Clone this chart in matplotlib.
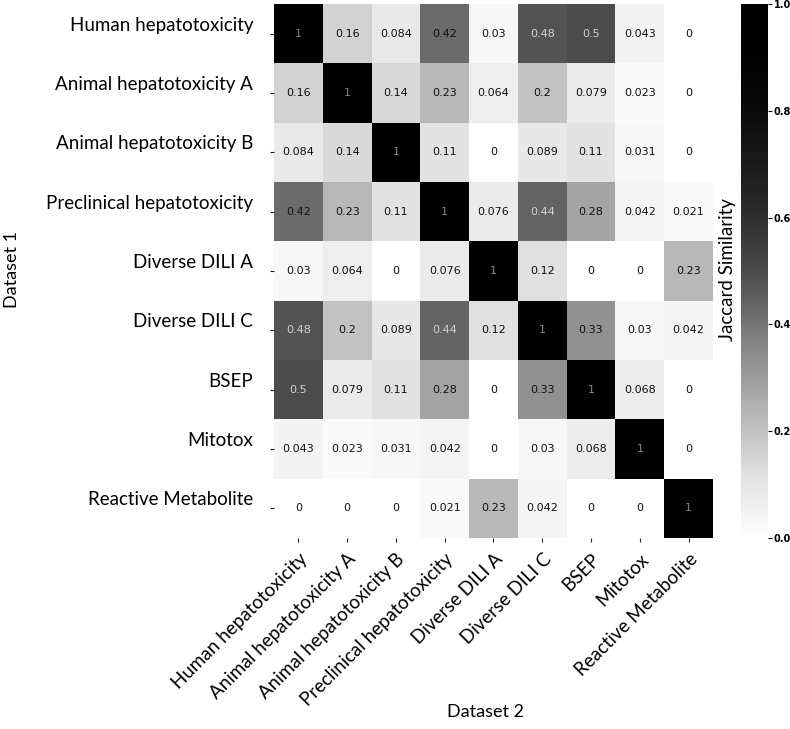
import numpy as np
import matplotlib
matplotlib.use("Agg")
import matplotlib.pyplot as plt
from matplotlib.colors import LinearSegmentedColormap
import seaborn as sns

labels = ["Human hepatotoxicity", "Animal hepatotoxicity A", "Animal hepatotoxicity B",
          "Preclinical hepatotoxicity", "Diverse DILI A", "Diverse DILI C", "BSEP",
          "Mitotox", "Reactive Metabolite"]

row_human = [1, 0.16, 0.084, 0.42, 0.03, 0.48, 0.5, 0.043, 0]
row_animal_a = [0.16, 1, 0.14, 0.23, 0.064, 0.2, 0.079, 0.023, 0]
row_animal_b = [0.084, 0.14, 1, 0.11, 0, 0.089, 0.11, 0.031, 0]
row_preclin = [0.42, 0.23, 0.11, 1, 0.076, 0.44, 0.28, 0.042, 0.021]
row_dili_a = [0.03, 0.064, 0, 0.076, 1, 0.12, 0, 0, 0.23]
row_dili_c = [0.48, 0.2, 0.089, 0.44, 0.12, 1, 0.33, 0.03, 0.042]
row_bsep = [0.5, 0.079, 0.11, 0.28, 0, 0.33, 1, 0.068, 0]
row_mitotox = [0.043, 0.023, 0.031, 0.042, 0, 0.03, 0.068, 1, 0]
row_reactive = [0, 0, 0, 0.021, 0.23, 0.042, 0, 0, 1]

data = np.array([row_human, row_animal_a, row_animal_b, row_preclin, row_dili_a,
                 row_dili_c, row_bsep, row_mitotox, row_reactive])

cbar_ticks = [0, 0.2, 0.4, 0.6, 0.8, 1.0]
cbar_ticklabels = ["0.0", "0.2", "0.4", "0.6", "0.8", "1.0"]

# darkened Greys colormap to match the rendering
base = plt.get_cmap("Greys")
xs = np.linspace(0, 1, 256)
cols = base(xs)
cols[:, :3] = cols[:, :3] ** 2.3
cmap = LinearSegmentedColormap.from_list("greys_dark", cols)

fig = plt.figure(figsize=(7.9, 7.29), dpi=100)
ax = fig.add_axes([274/790, 1-538/729, 439/790, 534/729])
cax = fig.add_axes([741/790, 1-538/729, 27/790, 534/729])

annot_txt = [["{:.2g}".format(v) for v in r] for r in data]
sns.heatmap(data, ax=ax, cbar_ax=cax, cmap=cmap, vmin=0, vmax=1,
            annot=np.array(annot_txt), fmt="", annot_kws={"fontsize": 8})

# text colours: light text on dark cells
for t, v in zip(ax.texts, data.flatten()):
    t.set_color("#d0d0d0" if v > 0.43 else "#111111")
    if v == 1:
        t.set_color("#888888")

lab_font = "Lato"
ax.set_xticks(np.arange(9) + 0.5)
ax.set_yticks(np.arange(9) + 0.5)
ax.set_xticklabels(labels, rotation=45, ha="right", rotation_mode="anchor",
                   fontsize=13.5, family=lab_font)
ax.set_yticklabels(labels, rotation=0, va="bottom", fontsize=13.5, family=lab_font)
ax.tick_params(axis="both", length=3, width=0.8, color="#222222")
ax.tick_params(axis="y", pad=12)
ax.tick_params(axis="x", pad=6)

fig.text(12/790, 1-270/729, "Dataset 1", rotation=90, ha="center", va="center",
         fontsize=13, family=lab_font)
fig.text(485/790, 1-712/729, "Dataset 2", ha="center", va="center",
         fontsize=13, family=lab_font)

cax.set_yticks(cbar_ticks)
cax.set_yticklabels(cbar_ticklabels, fontweight="bold")
cax.tick_params(labelsize=7, length=3, pad=1)
fig.text(727/790, 1-270/729, "Jaccard Similarity", rotation=90, ha="center",
         va="center", fontsize=13.5, family=lab_font)

fig.savefig("out.png", dpi=100)
